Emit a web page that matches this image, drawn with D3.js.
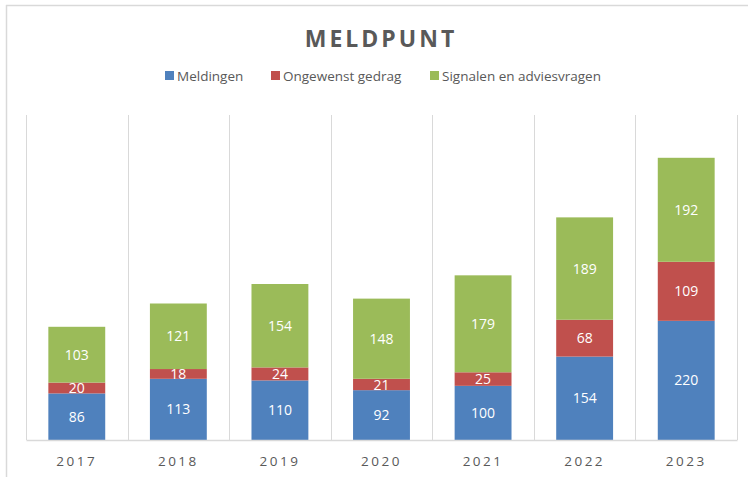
<!DOCTYPE html>
<html lang="nl">
<head>
<meta charset="utf-8">
<title>Meldpunt</title>
<script src="https://d3js.org/d3.v7.min.js"></script>
<style>
  body { margin: 0; background: #fff; }
  svg { display: block; font-family: "Open Sans", "DejaVu Sans", sans-serif; }
</style>
</head>
<body>
<svg id="chart" width="748" height="477"></svg>
<script>
// data
const years = ["2017", "2018", "2019", "2020", "2021", "2022", "2023"];
const meldingen = [86, 113, 110, 92, 100, 154, 220];
const ongewenst = [20, 18, 24, 21, 25, 68, 109];
const signalen = [103, 121, 154, 148, 179, 189, 192];
const seriesNames = ["Meldingen", "Ongewenst gedrag", "Signalen en adviesvragen"];
const colors = ["#4f81bd", "#c0504d", "#9bbb59"];

const W = 748, H = 477;
const margin = {top: 115, right: 11, bottom: 37, left: 26};

const svg = d3.select("#chart");

// outer frame (top and left edge of the screenshot)
svg.append("line").attr("x1", 6).attr("x2", W).attr("y1", 5.5).attr("y2", 5.5)
  .attr("stroke", "#d9d9d9").attr("stroke-width", 1.5);
svg.append("line").attr("x1", 6.5).attr("x2", 6.5).attr("y1", 5).attr("y2", H)
  .attr("stroke", "#d9d9d9").attr("stroke-width", 1.5);

const rows = years.map((y, i) => ({
  year: y,
  Meldingen: meldingen[i],
  "Ongewenst gedrag": ongewenst[i],
  "Signalen en adviesvragen": signalen[i]
}));

const stacked = d3.stack().keys(seriesNames)(rows);

const x = d3.scaleBand()
  .domain(years)
  .range([margin.left, W - margin.right])
  .paddingInner(0)
  .paddingOuter(0);

const y = d3.scaleLinear()
  .domain([0, 600])
  .range([H - margin.bottom, margin.top]);

// vertical gridlines between categories
const gridX = years.map(d => x(d)).concat([x(years[years.length - 1]) + x.bandwidth()]);
svg.append("g").selectAll("line")
  .data(gridX)
  .join("line")
  .attr("x1", d => Math.round(d) + 0.5)
  .attr("x2", d => Math.round(d) + 0.5)
  .attr("y1", y(600))
  .attr("y2", y(0))
  .attr("stroke", "#d9d9d9")
  .attr("stroke-width", 1);

// bars
const barW = x.bandwidth() * 0.56;
const layers = svg.append("g").selectAll("g")
  .data(stacked)
  .join("g")
  .attr("fill", (d, i) => colors[i]);

layers.selectAll("rect")
  .data(d => d)
  .join("rect")
  .attr("x", d => x(d.data.year) + (x.bandwidth() - barW) / 2)
  .attr("width", barW)
  .attr("y", d => y(d[1]))
  .attr("height", d => y(d[0]) - y(d[1]));

// value labels
layers.selectAll("text")
  .data(d => d.map(v => ({v, val: v[1] - v[0]})))
  .join("text")
  .attr("x", d => x(d.v.data.year) + x.bandwidth() / 2)
  .attr("y", d => (y(d.v[0]) + y(d.v[1])) / 2)
  .attr("dy", "0.36em")
  .attr("text-anchor", "middle")
  .attr("fill", "#fff")
  .attr("font-size", 14)
  .text(d => d.val);

// x axis
const xAxis = svg.append("g")
  .attr("transform", `translate(0,${y(0)})`)
  .call(d3.axisBottom(x).tickSize(0).tickPadding(16));
xAxis.select(".domain").attr("stroke", "#d9d9d9").attr("stroke-width", 1.5);
xAxis.selectAll("text")
  .attr("font-size", 13.5)
  .attr("font-family", "\"Open Sans\", sans-serif")
  .attr("letter-spacing", "2.5px")
  .attr("fill", "#595959");

// title
svg.append("text")
  .attr("x", 381)
  .attr("y", 47)
  .attr("text-anchor", "middle")
  .attr("font-size", 23)
  .attr("font-weight", "bold")
  .attr("letter-spacing", "3px")
  .attr("fill", "#595959")
  .text("MELDPUNT");

// legend
const legendX = [165, 271, 430];
const legend = svg.append("g").selectAll("g")
  .data(seriesNames)
  .join("g")
  .attr("transform", (d, i) => `translate(${legendX[i]},81)`);
legend.append("rect")
  .attr("x", 0).attr("y", -10)
  .attr("width", 9).attr("height", 9)
  .attr("fill", (d, i) => colors[i]);
legend.append("text")
  .attr("x", 12)
  .attr("y", 0)
  .attr("font-size", 13.5)
  .attr("fill", "#595959")
  .text(d => d);
</script>
</body>
</html>
